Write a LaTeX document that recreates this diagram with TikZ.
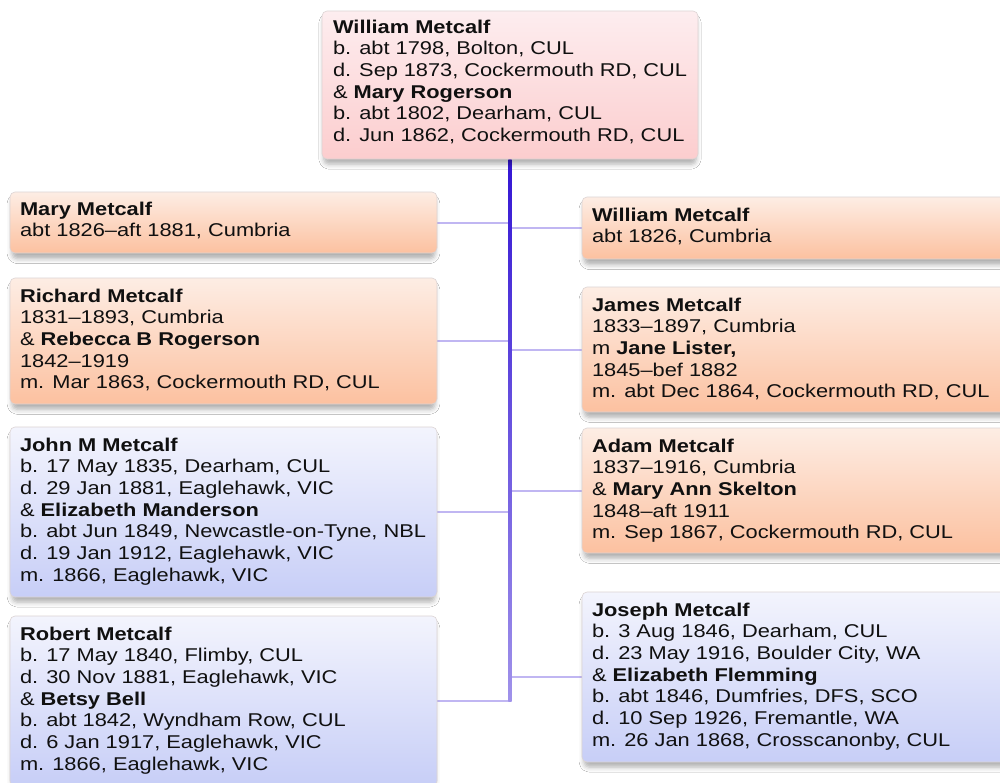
\documentclass[tikz,border=0pt]{standalone}
\usepackage{fontspec}
\setmainfont{Liberation Sans}[FakeStretch=1.18]
\usetikzlibrary{shadows.blur,calc}
\definecolor{pinkT}{HTML}{FDEDEF}
\definecolor{pinkB}{HTML}{FCCDCE}
\definecolor{orT}{HTML}{FDEDE4}
\definecolor{orB}{HTML}{FCC1A0}
\definecolor{blT}{HTML}{F3F4FD}
\definecolor{blB}{HTML}{C7CEF7}
\definecolor{edge}{HTML}{DCD4D4}
\definecolor{conn}{HTML}{C0B6F2}
\definecolor{trunkT}{HTML}{3416D4}
\definecolor{trunkB}{HTML}{A092EA}
\definecolor{ink}{HTML}{101010}
\pgfdeclarelayer{back}
\pgfsetlayers{back,main}
\newcommand{\pbx}[4]{\parbox[t][#1][t]{#2}{\fontsize{18.5}{21.7}\selectfont\raggedright\color{ink}\rule{0pt}{#3}#4}}
\tikzset{
  person/.style={draw=edge, line width=0.6pt, rounded corners=5pt, anchor=north west,
    inner xsep=10pt, inner ysep=0pt, outer sep=0pt,
    blur shadow={shadow xshift=0pt, shadow yshift=-6pt, shadow blur radius=5pt, shadow opacity=32, shadow scale=0.99}},
  pinkbox/.style={person, top color=pinkT, bottom color=pinkB},
  orbox/.style={person, top color=orT, bottom color=orB},
  blbox/.style={person, top color=blT, bottom color=blB},
  link/.style={draw=conn, line width=2pt}
}
\begin{document}
\begin{tikzpicture}[x=1pt,y=1pt]
\clip (0,0) rectangle (1000,-782);
\coordinate (trunkend) at (510,-701);
\node[pinkbox, inner xsep=11pt] (top) at (322,-11) {\pbx{148pt}{354pt}{22pt}{\textbf{William Metcalf}\\
b. abt 1798, Bolton, CUL\\
d. Sep 1873, Cockermouth RD, CUL\\
\& \textbf{Mary Rogerson}\\
b. abt 1802, Dearham, CUL\\
d. Jun 1862, Cockermouth RD, CUL}};
% left column
\node[orbox] (mary) at (10,-192) {\pbx{61pt}{407pt}{23pt}{\textbf{Mary Metcalf}\\
abt 1826–aft 1881, Cumbria}};
\node[orbox] (richard) at (10,-278) {\pbx{126pt}{407pt}{24pt}{\textbf{Richard Metcalf}\\
1831–1893, Cumbria\\
\& \textbf{Rebecca B Rogerson}\\
1842–1919\\
m. Mar 1863, Cockermouth RD, CUL}};
\node[blbox] (john) at (10,-427) {\pbx{170pt}{407pt}{24pt}{\textbf{John M Metcalf}\\
b. 17 May 1835, Dearham, CUL\\
d. 29 Jan 1881, Eaglehawk, VIC\\
\& \textbf{Elizabeth Manderson}\\
b. abt Jun 1849, Newcastle-on-Tyne, NBL\\
d. 19 Jan 1912, Eaglehawk, VIC\\
m. 1866, Eaglehawk, VIC}};
\node[blbox] (robert) at (10,-616) {\pbx{170pt}{407pt}{24pt}{\textbf{Robert Metcalf}\\
b. 17 May 1840, Flimby, CUL\\
d. 30 Nov 1881, Eaglehawk, VIC\\
\& \textbf{Betsy Bell}\\
b. abt 1842, Wyndham Row, CUL\\
d. 6 Jan 1917, Eaglehawk, VIC\\
m. 1866, Eaglehawk, VIC}};
% right column
\node[orbox] (william) at (582,-197) {\pbx{62pt}{408pt}{24pt}{\textbf{William Metcalf}\\
abt 1826, Cumbria}};
\node[orbox] (james) at (582,-287) {\pbx{125pt}{408pt}{24pt}{\textbf{James Metcalf}\\
1833–1897, Cumbria\\
m \textbf{Jane Lister,}\\
1845–bef 1882\\
m. abt Dec 1864, Cockermouth RD, CUL}};
\node[orbox] (adam) at (582,-428) {\pbx{125pt}{408pt}{24pt}{\textbf{Adam Metcalf}\\
1837–1916, Cumbria\\
\& \textbf{Mary Ann Skelton}\\
1848–aft 1911\\
m. Sep 1867, Cockermouth RD, CUL}};
\node[blbox] (joseph) at (582,-592) {\pbx{170pt}{408pt}{24pt}{\textbf{Joseph Metcalf}\\
b. 3 Aug 1846, Dearham, CUL\\
d. 23 May 1916, Boulder City, WA\\
\& \textbf{Elizabeth Flemming}\\
b. abt 1846, Dumfries, DFS, SCO\\
d. 10 Sep 1926, Fremantle, WA\\
m. 26 Jan 1868, Crosscanonby, CUL}};
% connectors behind boxes
\begin{pgfonlayer}{back}
\fill[white] (0,0) rectangle (1000,-782);
\foreach \c in {mary,richard,john,robert}{
  \draw[link] (\c.east) -- (\c.east -| top.south);
}
\foreach \c in {william,james,adam,joseph}{
  \draw[link] (\c.west) -- (\c.west -| top.south);
}
\shade[top color=trunkT, bottom color=trunkB] ([xshift=-1.6pt]top.south) rectangle ([xshift=1.6pt]trunkend);
\end{pgfonlayer}
\end{tikzpicture}
\end{document}
